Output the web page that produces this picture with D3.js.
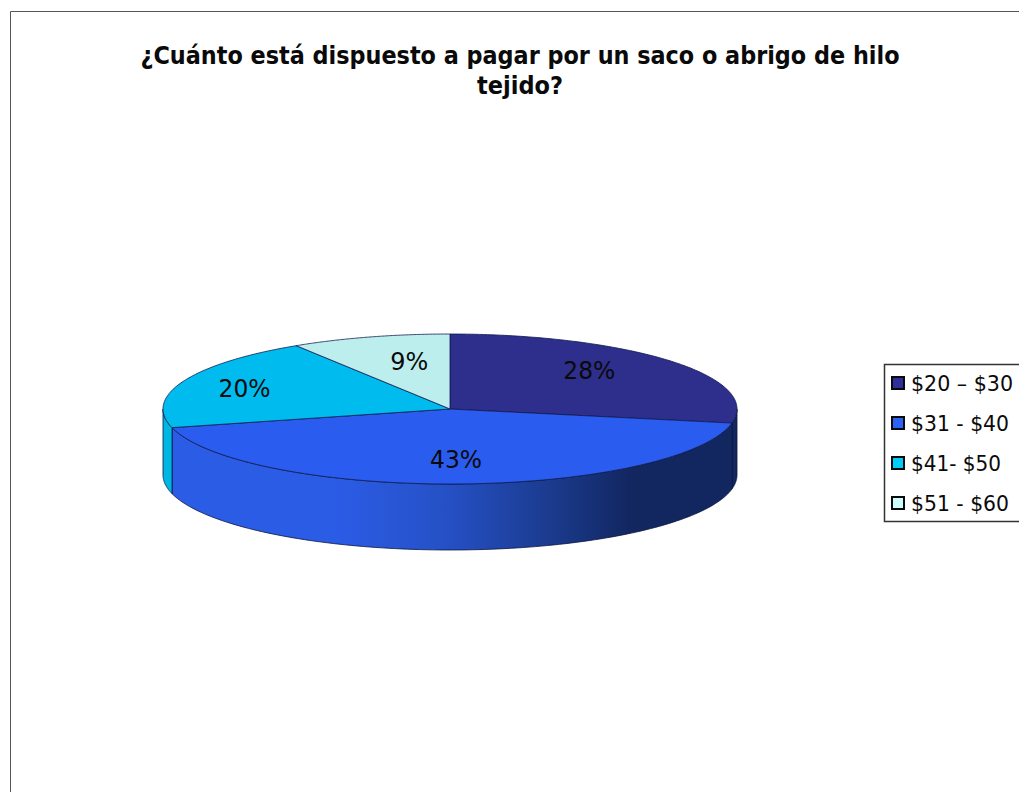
<!DOCTYPE html>
<html lang="es">
<head>
<meta charset="utf-8">
<script src="https://cdn.jsdelivr.net/npm/d3@7"></script>
<style>
  html, body { margin: 0; padding: 0; background: #fff; overflow: hidden; }
  svg { display: block; }
  text { font-family: "DejaVu Sans", sans-serif; font-stretch: condensed; fill: #0a0a0a; }
</style>
</head>
<body>
<svg id="chart" width="1019" height="792"></svg>
<script>
// Survey answers: price ranges and the share of respondents for each one.
const titleLines = ["¿Cuánto está dispuesto a pagar por un saco o abrigo de hilo", "tejido?"];
const categories = ["$20 – $30", "$31 - $40", "$41- $50", "$51 - $60"];
const shares = [28, 43, 20, 9];
const topColors = ["#2e2e8c", "#2b5cf0", "#00bcee", "#bdeeee"];
const swatchColors = ["#2f2f9c", "#2b62f8", "#00ccf8", "#ccfcfc"];

const W = 1019, H = 792;
const cx = 450, cy = 409, rx = 287, ry = 75, depth = 66;

const svg = d3.select("#chart");

// Outer frame: only its top and left edges fall inside the page.
svg.append("path")
  .attr("d", d3.line()([[1019, 11.5], [10.5, 11.5], [10.5, 792]]))
  .attr("fill", "none").attr("stroke", "#555").attr("stroke-width", 1);

svg.append("g").selectAll("text").data(titleLines).join("text")
  .attr("x", 520).attr("y", (d, i) => 64 + i * 30)
  .attr("text-anchor", "middle")
  .attr("font-size", 24.5).attr("font-weight", 700)
  .attr("textLength", (d, i) => i === 0 ? 759 : 86)
  .attr("lengthAdjust", "spacingAndGlyphs")
  .text(d => d);

// Pie angles run clockwise from 12 o'clock; the disc is tilted by squashing y.
const slices = d3.pie().sort(null).value(d => d)(shares);
const px = d3.scaleLinear().domain([-1, 1]).range([cx - rx, cx + rx]);
const py = d3.scaleLinear().domain([-1, 1]).range([cy - ry, cy + ry]);
const rim = (a, dy = 0) => [px(Math.sin(a)), py(-Math.cos(a)) + dy];

const defs = svg.append("defs");
const grad = defs.append("linearGradient").attr("id", "wallShade")
  .attr("gradientUnits", "userSpaceOnUse")
  .attr("x1", cx - rx).attr("x2", cx + rx).attr("y1", 0).attr("y2", 0);
[[0, "#2b5ce6"], [0.3, "#2b5ce6"], [0.5, "#2550c4"], [0.68, "#1a3a8c"], [0.82, "#12265f"], [1, "#12265f"]]
  .forEach(([o, c]) => grad.append("stop").attr("offset", o).attr("stop-color", c));

const wallFill = ["#12265f", "url(#wallShade)", "#00b6e2", "#00b6e2"];

// Side wall: only the stretch of each slice that lies on the near half of the rim.
const wall = svg.append("g");
slices.forEach((s, i) => {
  const a0 = Math.max(s.startAngle, Math.PI / 2);
  const a1 = Math.min(s.endAngle, 3 * Math.PI / 2);
  if (a1 <= a0) return;
  const steps = d3.range(0, 121).map(k => a0 + (a1 - a0) * k / 120);
  const outline = steps.map(a => rim(a)).concat(steps.slice().reverse().map(a => rim(a, depth)));
  wall.append("path")
    .attr("d", d3.line().curve(d3.curveLinear)(outline) + "Z")
    .attr("fill", wallFill[i])
    .attr("stroke", "#0b1540").attr("stroke-width", 0.8);
});

// Top face of the disc.
const faces = svg.append("g");
slices.forEach((s, i) => {
  const steps = d3.range(0, 121).map(k => s.startAngle + (s.endAngle - s.startAngle) * k / 120);
  const outline = [[cx, cy]].concat(steps.map(a => rim(a)));
  faces.append("path")
    .attr("d", d3.line()(outline) + "Z")
    .attr("fill", topColors[i])
    .attr("stroke", "#0f1a50").attr("stroke-width", 0.8).attr("stroke-linejoin", "round");
});

// Percentage labels sit inside each slice, pulled toward the centre by these factors.
const labelPull = [[0.63, 0.82], [0.67, 0.67], [0.77, 0.76], [0.51, 0.67]];
svg.append("g").selectAll("text").data(slices).join("text")
  .attr("x", (s, i) => {
    const mid = (s.startAngle + s.endAngle) / 2;
    return cx + rx * Math.sin(mid) * labelPull[i][0];
  })
  .attr("y", (s, i) => {
    const mid = (s.startAngle + s.endAngle) / 2;
    return cy - ry * Math.cos(mid) * labelPull[i][1] + 9;
  })
  .attr("text-anchor", "middle")
  .attr("font-size", 25)
  .attr("textLength", s => s.data < 10 ? 38 : 52)
  .attr("lengthAdjust", "spacingAndGlyphs")
  .text(s => s.data + "%");

// Legend: its box runs past the right edge of the page.
const legend = svg.append("g");
legend.append("rect")
  .attr("x", 884.5).attr("y", 364.5).attr("width", 150).attr("height", 157)
  .attr("fill", "#fff").attr("stroke", "#333").attr("stroke-width", 1.5);
const rowY = d3.scalePoint().domain(categories).range([383, 503]);
const row = legend.selectAll("g").data(categories).join("g")
  .attr("transform", d => `translate(0,${rowY(d)})`);
row.append("rect")
  .attr("x", 892).attr("y", -6).attr("width", 12).attr("height", 12)
  .attr("fill", (d, i) => swatchColors[i])
  .attr("stroke", "#0a0a0a").attr("stroke-width", 2);
row.append("text")
  .attr("x", 911).attr("y", 8)
  .attr("font-size", 22)
  .attr("textLength", (d, i) => [102, 98, 90, 98][i])
  .attr("lengthAdjust", "spacingAndGlyphs")
  .text(d => d);
</script>
</body>
</html>
